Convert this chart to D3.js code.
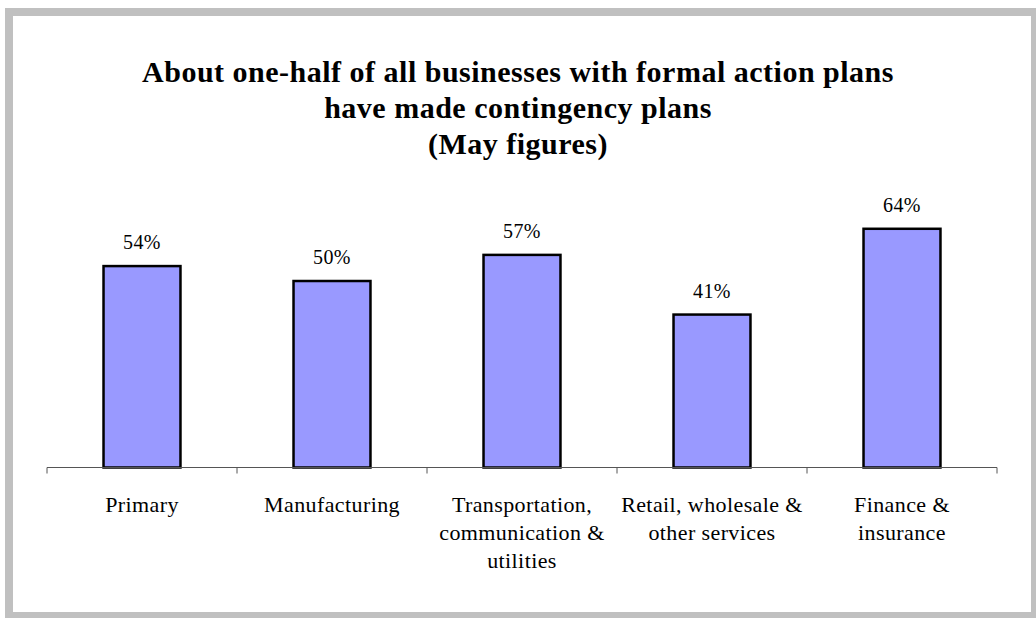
<!DOCTYPE html>
<html>
<head>
<meta charset="utf-8">
<script src="https://cdn.jsdelivr.net/npm/d3@7"></script>
<style>
  html, body { margin: 0; padding: 0; background: #fff; }
  svg { display: block; }
  text { font-family: "Liberation Serif", "Times New Roman", serif; fill: #000; }
</style>
</head>
<body>
<svg id="chart" width="1036" height="618"></svg>
<script>
// Share of businesses with formal action plans that have made contingency plans
const categories = [
  ["Primary"],
  ["Manufacturing"],
  ["Transportation,", "communication &", "utilities"],
  ["Retail, wholesale &", "other services"],
  ["Finance &", "insurance"]
];
const values = [0.54, 0.50, 0.57, 0.41, 0.64];
const titleLines = [
  "About one-half of all businesses with formal action plans",
  "have made contingency plans",
  "(May figures)"
];

const svg = d3.select("#chart");

// outer frame
svg.append("rect")
  .attr("x", 9).attr("y", 12)
  .attr("width", 1026).attr("height", 604)
  .attr("fill", "#fff")
  .attr("stroke", "#c0c0c0")
  .attr("stroke-width", 8);

const plot = { left: 47, right: 997, top: 206.4, bottom: 467.5 };

const x = d3.scaleBand()
  .domain(d3.range(categories.length))
  .range([plot.left, plot.right])
  .paddingInner(0.595)
  .paddingOuter(0.2975);

const y = d3.scaleLinear()
  .domain([0, 0.7])
  .range([plot.bottom, plot.top]);

// title
const title = svg.append("text")
  .attr("text-anchor", "middle")
  .attr("font-weight", "bold")
  .attr("font-size", 30)
  .style("letter-spacing", "0.5px");
titleLines.forEach((t, i) => {
  title.append("tspan")
    .attr("x", 518)
    .attr("y", 82 + i * 36)
    .text(t);
});

// bars
svg.append("g").selectAll("rect")
  .data(values)
  .join("rect")
  .attr("x", (d, i) => x(i))
  .attr("width", x.bandwidth())
  .attr("y", d => y(d))
  .attr("height", d => y(0) - y(d))
  .attr("fill", "#9999ff")
  .attr("stroke", "#000")
  .attr("stroke-width", 2.5);

// value labels
svg.append("g").selectAll("text")
  .data(values)
  .join("text")
  .attr("x", (d, i) => x(i) + x.bandwidth() / 2)
  .attr("y", d => y(d) - 17)
  .attr("text-anchor", "middle")
  .attr("font-size", 20)
  .style("letter-spacing", "0.4px")
  .text(d => d3.format(".0%")(d));

// category axis with boundary ticks
const axis = svg.append("g");
axis.append("line")
  .attr("x1", plot.left).attr("x2", plot.right)
  .attr("y1", y(0)).attr("y2", y(0))
  .attr("stroke", "#555").attr("stroke-width", 1);
const bounds = d3.range(categories.length + 1).map(i => plot.left + i * x.step());
axis.selectAll(".tick")
  .data(bounds)
  .join("line")
  .attr("class", "tick")
  .attr("x1", d => d).attr("x2", d => d)
  .attr("y1", y(0)).attr("y2", y(0) + 6)
  .attr("stroke", "#555").attr("stroke-width", 1);

const labels = axis.selectAll(".cat")
  .data(categories)
  .join("text")
  .attr("class", "cat")
  .attr("text-anchor", "middle")
  .attr("font-size", 22)
  .style("letter-spacing", "0.4px");
labels.each(function(lines, i) {
  const t = d3.select(this);
  lines.forEach((l, j) => {
    t.append("tspan")
      .attr("x", x(i) + x.bandwidth() / 2)
      .attr("y", 512 + j * 28)
      .text(l);
  });
});
</script>
</body>
</html>
